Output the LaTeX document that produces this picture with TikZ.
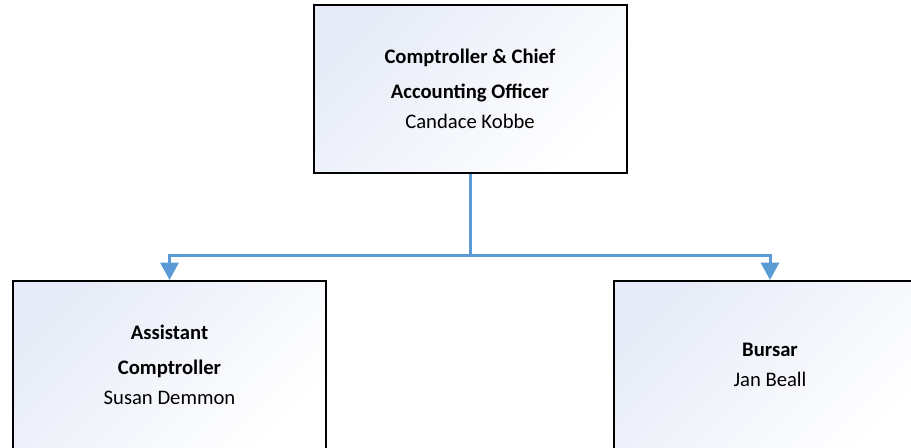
\documentclass[tikz,border=0pt]{standalone}
\usepackage{fontspec}
\setmainfont{Carlito}
\usepackage{xcolor}
\usetikzlibrary{positioning,arrows.meta}

\definecolor{linkblue}{HTML}{5B9BD5}
\definecolor{boxtint}{HTML}{E6EBF7}

\tikzset{
    orgbox/.style={draw=black, line width=1.5pt, top color=boxtint, bottom color=white,
        shading angle=45, minimum width=234.75pt, minimum height=126pt, inner sep=0pt,
        align=center, font=\fontsize{15.5}{22.5}\selectfont},
    link/.style={draw=linkblue, line width=2.25pt},
    linkarrow/.style={link, -{Triangle[width=13.5pt, length=13pt]}}
}

\begin{document}
\begin{tikzpicture}[x=0.75pt, y=-0.75pt]
    \useasboundingbox (0, 0) rectangle (911, 448);
    \clip (0, 0) rectangle (911, 448);

    % Top box
    \node[orgbox] (comptroller) at (470, 89)
        {\textbf{Comptroller \& Chief}\\[3.75pt]\textbf{Accounting Officer}\\Candace Kobbe};

    % Lower boxes
    \node[orgbox] (assistant) at (169.5, 365)
        {\textbf{Assistant}\\[3.75pt]\textbf{Comptroller}\\Susan Demmon};
    \node[orgbox] (bursar) at (770, 365)
        {\textbf{Bursar}\\Jan Beall};

    % Connectors
    \coordinate (split) at (470, 256);
    \draw[link] (comptroller.south) -- (split);
    \draw[linkarrow] (split) -| (assistant.north);
    \draw[linkarrow] (split) -| (bursar.north);
\end{tikzpicture}
\end{document}
